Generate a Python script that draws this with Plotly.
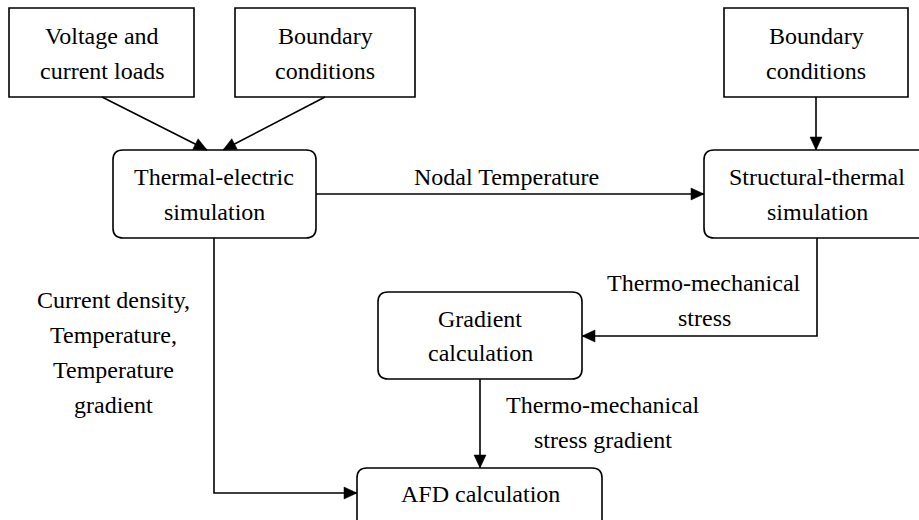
import plotly.graph_objects as go
import math

# ---- content (labels) ----
node_names = ["voltage", "boundary1", "boundary2", "thermal", "structural", "gradient", "afd"]
node_labels = [
    ["Voltage and", "current loads"],
    ["Boundary", "conditions"],
    ["Boundary", "conditions"],
    ["Thermal-electric", "simulation"],
    ["Structural-thermal", "simulation"],
    ["Gradient", "calculation"],
    ["AFD calculation"],
]
node_rounded = [False, False, False, True, True, True, True]

edge_labels = [
    ["Nodal Temperature"],
    ["Thermo-mechanical", "stress"],
    ["Thermo-mechanical", "stress gradient"],
    ["Current density,", "Temperature,", "Temperature", "gradient"],
]

# ---- layout (pixel geometry of the diagram) ----
W, H = 919, 520
boxes = {
    "voltage":    (9, 194, 8, 97),
    "boundary1":  (235, 415, 8, 97),
    "boundary2":  (724, 908, 8, 97),
    "thermal":    (113, 316, 150, 238),
    "structural": (704, 930, 150, 238),
    "gradient":   (378, 582, 292, 379),
    "afd":        (357, 602, 468, 530),
}
text_centers = {
    "voltage":    (102, [36, 71]),
    "boundary1":  (325, [36, 71]),
    "boundary2":  (816, [36, 71]),
    "thermal":    (214, [176.5, 211.5]),
    "structural": (817, [176.5, 211.5]),
    "gradient":   (480, [319, 353]),
    "afd":        (480, [494]),
}
edges = [
    [(102, 97), (207, 150)],
    [(325, 97), (223, 150)],
    [(816, 97), (816, 150)],
    [(316, 194), (704, 194)],
    [(817, 238), (817, 336), (582, 336)],
    [(480, 379), (480, 468)],
    [(214, 238), (214, 493), (357, 493)],
]
edge_label_pos = [
    (506, [177]),
    (704, [283, 318]),
    (603, [405, 440]),
    (113, [300, 335, 370, 405]),
]

LW = 1.6

fig = go.Figure()
shapes = []
annotations = []


def font():
    return dict(family="Liberation Serif", size=24, color="#000000")


def rounded_path(x0, x1, y0, y1, r=10):
    return (f"M {x0+r},{y0} H {x1-r} Q {x1},{y0} {x1},{y0+r} V {y1-r} "
            f"Q {x1},{y1} {x1-r},{y1} H {x0+r} Q {x0},{y1} {x0},{y1-r} "
            f"V {y0+r} Q {x0},{y0} {x0+r},{y0} Z")


for name, lines, rnd in zip(node_names, node_labels, node_rounded):
    x0, x1, y0, y1 = boxes[name]
    if rnd:
        shapes.append(dict(type="path", path=rounded_path(x0, x1, y0, y1), xref="x", yref="y",
                           line=dict(color="black", width=LW), fillcolor="white"))
    else:
        shapes.append(dict(type="rect", x0=x0, x1=x1, y0=y0, y1=y1, xref="x", yref="y",
                           line=dict(color="black", width=LW), fillcolor="white"))
    cx, ys = text_centers[name]
    for t, y in zip(lines, ys):
        annotations.append(dict(x=cx, y=y, text=t, showarrow=False, xref="x", yref="y",
                                xanchor="center", yanchor="middle", font=font()))

AL, AW = 13, 6
for pts in edges:
    path = "M " + " L ".join(f"{x},{y}" for x, y in pts)
    shapes.append(dict(type="path", path=path, xref="x", yref="y",
                       line=dict(color="black", width=LW)))
    (xa, ya), (xb, yb) = pts[-2], pts[-1]
    d = math.hypot(xb - xa, yb - ya)
    ux, uy = (xb - xa) / d, (yb - ya) / d
    bx, by = xb - ux * AL, yb - uy * AL
    px, py = -uy * AW, ux * AW
    tri = f"M {xb},{yb} L {bx+px},{by+py} L {bx-px},{by-py} Z"
    shapes.append(dict(type="path", path=tri, xref="x", yref="y",
                       line=dict(color="black", width=0.5), fillcolor="black"))

for lines, (cx, ys) in zip(edge_labels, edge_label_pos):
    for t, y in zip(lines, ys):
        annotations.append(dict(x=cx, y=y, text=t, showarrow=False, xref="x", yref="y",
                                xanchor="center", yanchor="middle", font=font()))

fig.update_layout(
    width=W, height=H,
    margin=dict(l=0, r=0, t=0, b=0),
    paper_bgcolor="white", plot_bgcolor="white",
    xaxis=dict(range=[0, W], visible=False, fixedrange=True),
    yaxis=dict(range=[H, 0], visible=False, fixedrange=True),
    shapes=shapes, annotations=annotations, showlegend=False,
)
fig.write_html("out.html", config={"displayModeBar": False},
               post_script="document.body.style.margin='0';document.body.style.overflow='hidden';")
